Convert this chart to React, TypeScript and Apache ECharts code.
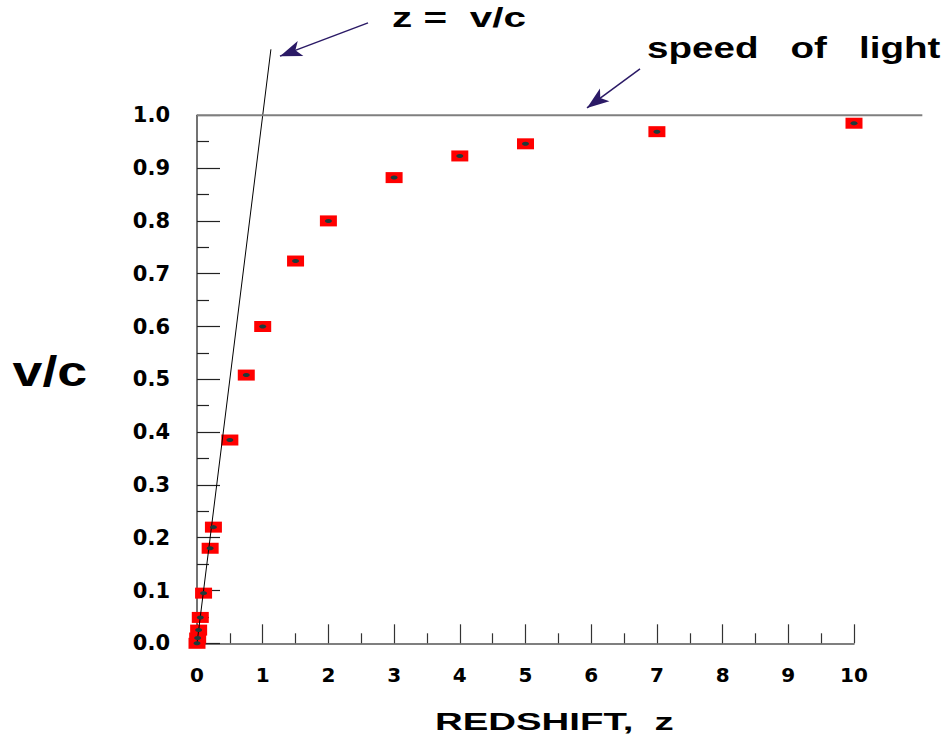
import { useEffect, useRef } from 'react';
import * as echarts from 'echarts';

// Data
const redshift = [0, 0.01, 0.025, 0.05, 0.1, 0.2, 0.25, 0.5, 0.75, 1, 1.5, 2, 3, 4, 5, 7, 10];
const velocity = [0, 0.01, 0.025, 0.049, 0.095, 0.18, 0.22, 0.385, 0.508, 0.6, 0.724, 0.8, 0.882, 0.923, 0.946, 0.969, 0.985];

// Annotation geometry in data units
const classicalLine = [[0, 0], [1.125, 1.125]];
const lightLine = [[0, 1], [11.04, 1]];
const arrowZ = [[2.603, 1.175], [1.263, 1.112]];
const arrowLight = [[6.743, 1.088], [5.936, 1.014]];

const xMin = 0, xMax = 10, xStep = 1;
const yMin = 0, yMax = 1, yStep = 0.1;
const annXMax = 11.2, annYMax = 1.2;

const X0 = 197, Y0 = 643.3, PLOT_W = 657, PLOT_H = 528;

const labelFont = 'DejaVu Sans';
const titleFont = 'Liberation Sans';
const arrowColor = '#2b1a66';

export default function App() {
  const ref = useRef<HTMLDivElement>(null);
  useEffect(() => {
    if (!ref.current) return;
    const chart = echarts.init(ref.current, undefined, { renderer: 'svg' });
    const points = redshift.map((z, i) => [z, velocity[i]]);
    chart.setOption({
      animation: false,
      backgroundColor: '#ffffff',
      grid: [
        { left: X0, top: Y0 - PLOT_H, width: PLOT_W, height: PLOT_H, outerBoundsMode: 'none', containLabel: false },
        { left: X0, top: Y0 - PLOT_H * annYMax, width: PLOT_W * annXMax / xMax, height: PLOT_H * annYMax, outerBoundsMode: 'none', containLabel: false },
      ],
      xAxis: [
        {
          type: 'value', gridIndex: 0, min: xMin, max: xMax, interval: xStep,
          splitLine: { show: false },
          axisLine: { show: true, lineStyle: { color: '#555', width: 1.5 } },
          axisTick: { show: true, inside: true, length: 19, lineStyle: { color: '#333', width: 1.2 } },
          minorTick: { show: true, splitNumber: 2, length: 10, lineStyle: { color: '#333', width: 1.2 } },
          axisLabel: { margin: 22, color: '#000', fontFamily: labelFont, fontWeight: 'bold', fontSize: 20 },
        },
        { type: 'value', gridIndex: 1, min: 0, max: annXMax, show: false },
      ],
      yAxis: [
        {
          type: 'value', gridIndex: 0, min: yMin, max: yMax, interval: yStep,
          splitLine: { show: false },
          axisLine: { show: true, lineStyle: { color: '#444', width: 1.5 } },
          axisTick: { show: true, inside: true, length: 23, lineStyle: { color: '#222', width: 1.2 } },
          minorTick: { show: true, splitNumber: 2, length: 12, lineStyle: { color: '#222', width: 1.2 } },
          axisLabel: {
            margin: 27, color: '#000', fontFamily: labelFont, fontWeight: 'bold', fontSize: 21,
            formatter: (v: number) => v.toFixed(1),
          },
        },
        { type: 'value', gridIndex: 1, min: 0, max: annYMax, show: false },
      ],
      series: [
        {
          type: 'scatter', xAxisIndex: 0, yAxisIndex: 0, data: points,
          symbol: 'rect', symbolSize: [17, 11], itemStyle: { color: '#ff0000', opacity: 1 }, z: 2, silent: true,
        },
        {
          type: 'line', xAxisIndex: 1, yAxisIndex: 1, data: classicalLine,
          showSymbol: false, lineStyle: { color: '#000', width: 1 }, z: 3, silent: true,
        },
        {
          type: 'scatter', xAxisIndex: 0, yAxisIndex: 0, data: points,
          symbol: 'circle', symbolSize: [7, 4], itemStyle: { color: '#1d3b3b', opacity: 1 }, z: 4, silent: true,
        },
        {
          type: 'line', xAxisIndex: 1, yAxisIndex: 1, data: lightLine,
          showSymbol: false, lineStyle: { color: '#7f7f7f', width: 2 }, z: 3, silent: true,
          markLine: {
            silent: true, symbol: ['none', 'arrow'], symbolSize: [12, 22],
            label: { show: false },
            lineStyle: { type: 'solid', color: arrowColor, width: 1.5 },
            data: [
              [{ coord: arrowZ[0] }, { coord: arrowZ[1] }],
              [{ coord: arrowLight[0] }, { coord: arrowLight[1] }],
            ],
          },
        },
      ],
      graphic: [
        {
          type: 'text', x: 12.5, y: 371.5, scaleX: 1.28,
          style: { text: 'v/c', fontFamily: titleFont, fontWeight: 'bold', fontSize: 42, fill: '#000', align: 'left', verticalAlign: 'middle' },
        },
        {
          type: 'text', x: 392, y: 17.6, scaleX: 1.5,
          style: { text: 'z =  v/c', fontFamily: titleFont, fontWeight: 'bold', fontSize: 27, fill: '#000', align: 'left', verticalAlign: 'middle' },
        },
        {
          type: 'text', x: 647, y: 48.3, scaleX: 1.33,
          style: { text: 'speed   of   light', fontFamily: titleFont, fontWeight: 'bold', fontSize: 29, fill: '#000', align: 'left', verticalAlign: 'middle' },
        },
        {
          type: 'text', x: 435, y: 722.2, scaleX: 1.6,
          style: { text: 'REDSHIFT,  z', fontFamily: titleFont, fontWeight: 'bold', fontSize: 24, fill: '#000', align: 'left', verticalAlign: 'middle' },
        },
      ],
    });
    return () => chart.dispose();
  }, []);
  return <div ref={ref} style={{ position: 'fixed', left: 0, top: 0, width: 947, height: 737, background: '#fff' }} />;
}
